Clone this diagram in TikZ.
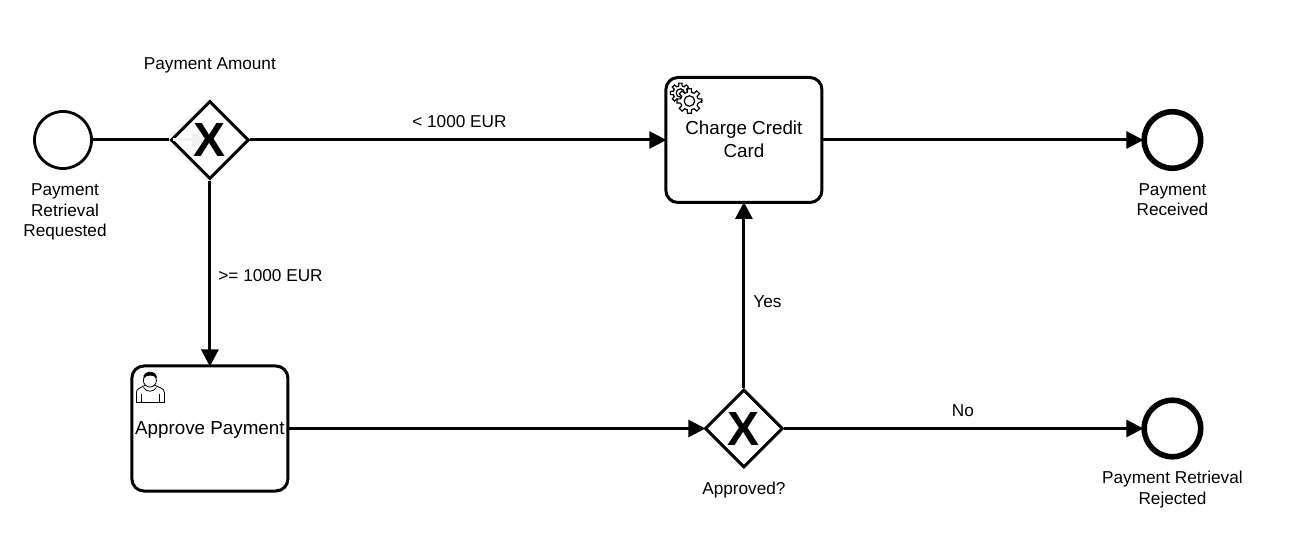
\documentclass[tikz,border=0pt]{standalone}
\usepackage{fontspec}
\setmainfont{Liberation Sans}
\usetikzlibrary{positioning,arrows.meta,shapes.geometric}
\begin{document}
\begin{tikzpicture}[
x=1pt,y=1pt,
txt/.style={align=center,font=\fontsize{17.2}{20.5}\selectfont,inner sep=0pt},
startev/.style={circle,draw,line width=2.8pt,inner sep=0pt,minimum size=57pt},
endev/.style={circle,draw,line width=5.6pt,inner sep=0pt,minimum size=56.5pt},
gateway/.style={diamond,draw,line width=3pt,inner sep=0pt,minimum size=78pt},
gwmark/.style={inner sep=0pt,font=\fontsize{48}{48}\selectfont\bfseries},
task/.style={rectangle,rounded corners=12pt,draw,line width=3pt,inner sep=0pt,minimum width=156pt,minimum height=125pt,align=center},
tasktxt/.style={align=center,inner sep=0pt,font=\fontsize{18.8}{23}\selectfont},
arrow/.style={-{Triangle[length=17pt,width=17pt]},line width=3pt,shorten >=-2pt},
faint/.style={-{Triangle[length=14pt,width=15pt]},line width=3pt,draw=black!5,shorten >=4pt,shorten <=4pt}
]
\useasboundingbox (0,0) rectangle (1291,-553);
\node[startev] (start) at (63,-140) {};
\node[gateway,right=76.5pt of start] (gwamount) {};
\node[task,right=414pt of gwamount] (charge) {};
\node[endev,right=318pt of charge] (received) {};
\node[task,below=184pt of gwamount] (approve) {};
\node[gateway] (gwapproved) at (charge |- approve) {};
\node[endev] (rejected) at (received |- approve) {};
\node[tasktxt] (chargetxt) at ([yshift=1pt]charge.center) {Charge Credit\\Card};
\node[tasktxt] (approvetxt) at ([yshift=-1pt]approve.center) {Approve Payment};
\node[gwmark] (approvedx) at (gwapproved) {X};
\node[txt,below=14pt of start,xshift=2pt] (startlbl) {Payment\\Retrieval\\Requested};
\node[txt,above=26pt of gwamount] (amountlbl) {Payment Amount};
\node[txt,below=12pt of received] (receivedlbl) {Payment\\Received};
\node[txt,below=13pt of gwapproved] (approvedlbl) {Approved?};
\node[txt,below=11.5pt of rejected] (rejectedlbl) {Payment Retrieval\\Rejected};
\draw[line width=3pt] (start)--(gwamount);
\draw[faint] (gwamount.west)--(gwamount.center);
\node[gwmark] (amountx) at (gwamount) {X};
\draw[arrow] (gwamount)--node[txt,above=11pt,xshift=2pt]{< 1000 EUR}(charge);
\draw[arrow] (charge)--(received);
\draw[arrow] (gwamount)--node[txt,right=7pt,yshift=-3pt]{>= 1000 EUR}(approve);
\draw[arrow] (approve)--(gwapproved);
\draw[arrow] (gwapproved)--node[txt,right=8pt,yshift=-6pt]{Yes}(charge);
\draw[arrow] (gwapproved)--node[txt,above=10pt]{No}(rejected);
\begin{scope}[shift={(charge.north west)},line width=1.2pt]
\foreach \cx/\cy/\rr in {16/-17/10,25/-25/12.5}{
\draw[fill=white] (\cx+\rr,\cy) \foreach \a in {0,45,...,315}{
 -- ({\cx+\rr*cos(\a-9)},{\cy+\rr*sin(\a-9)}) -- ({\cx+\rr*cos(\a+9)},{\cy+\rr*sin(\a+9)})
 -- ({\cx+0.72*\rr*cos(\a+14)},{\cy+0.72*\rr*sin(\a+14)}) -- ({\cx+0.72*\rr*cos(\a+31)},{\cy+0.72*\rr*sin(\a+31)})
} -- cycle;
\draw (\cx,\cy) circle ({0.42*\rr});
}
\end{scope}
\begin{scope}[shift={(approve.north west)},line width=0.8pt]
\draw[fill=white] (6,-38) -- (6,-28) .. controls (6,-24) and (11,-23) .. (14,-21) -- (25,-21) .. controls (29,-23) and (34,-24) .. (34,-28) -- (34,-38) -- cycle;
\draw (11,-38)--(11,-29) (29,-38)--(29,-29);
\draw[fill=white] (19.5,-16) circle (6.5);
\draw (13,-23) .. controls (16,-28) and (23,-28) .. (26,-23);
\fill (13,-14) .. controls (12,-5) and (27,-5) .. (26.5,-14) .. controls (24,-10) and (16,-10) .. (13,-14) -- cycle;
\end{scope}
\end{tikzpicture}
\end{document}
